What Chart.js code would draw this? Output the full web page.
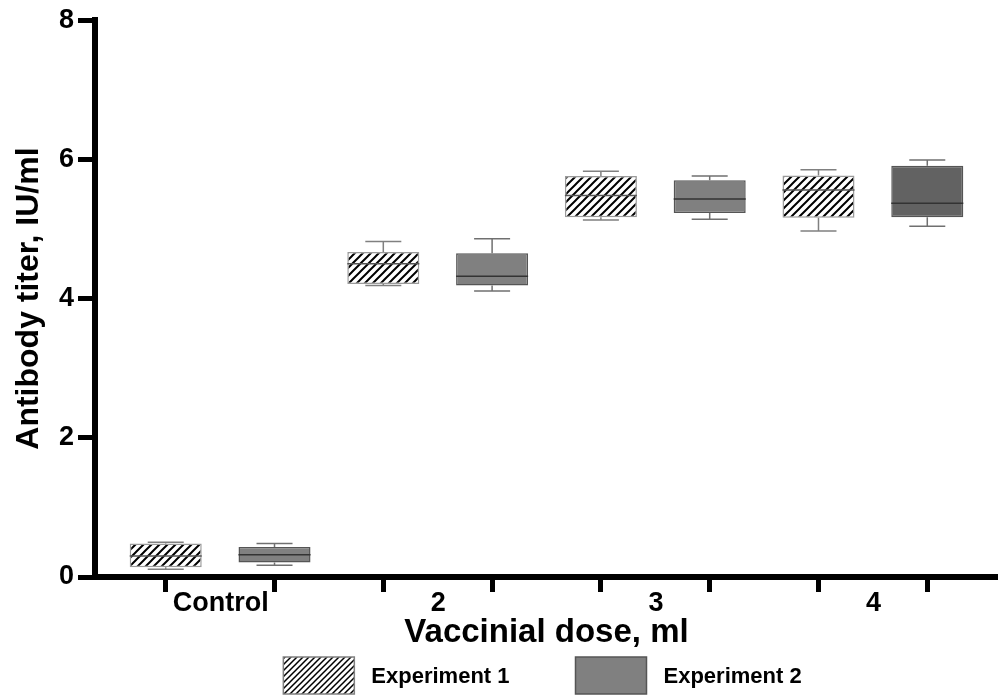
<!DOCTYPE html>
<html>
<head>
<meta charset="utf-8">
<script src="https://cdn.jsdelivr.net/npm/chart.js@4.4.1/dist/chart.umd.min.js"></script>
<style>
  html, body { margin: 0; padding: 0; background: #fff; }
  canvas { display: block; }
</style>
</head>
<body>
<canvas id="chart" width="998" height="697"></canvas>
<script>
// categories on the x axis
var categories = ["Control", "2", "3", "4"];

// Experiment 1 box plot values
var exp1Min    = [0.11, 4.19, 5.13, 4.97];
var exp1Q1     = [0.14, 4.21, 5.17, 5.16];
var exp1Median = [0.30, 4.50, 5.48, 5.56];
var exp1Q3     = [0.48, 4.67, 5.76, 5.77];
var exp1Max    = [0.50, 4.82, 5.83, 5.85];

// Experiment 2 box plot values
var exp2Min    = [0.17, 4.11, 5.14, 5.04];
var exp2Q1     = [0.21, 4.19, 5.23, 5.17];
var exp2Median = [0.32, 4.32, 5.43, 5.37];
var exp2Q3     = [0.43, 4.65, 5.70, 5.91];
var exp2Max    = [0.48, 4.86, 5.76, 5.99];

var yTicks = [0, 2, 4, 6, 8];

var FONT = "'Liberation Sans', Arial, Helvetica, sans-serif";

function hatch(size, width) {
    var c = document.createElement("canvas");
    c.width = size; c.height = size;
    var g = c.getContext("2d");
    g.fillStyle = "#fff";
    g.fillRect(0, 0, size, size);
    g.strokeStyle = "#000";
    g.lineWidth = width;
    g.beginPath();
    g.moveTo(-1, size + 1); g.lineTo(size + 1, -1);
    g.moveTo(-size / 2 - 1, size / 2 + 1); g.lineTo(size / 2 + 1, -size / 2 - 1);
    g.moveTo(size / 2 - 1, size * 1.5 + 1); g.lineTo(size * 1.5 + 1, size / 2 - 1);
    g.stroke();
    return g.createPattern(c, "repeat");
}

var ctx = document.getElementById("chart").getContext("2d");
var stripes = hatch(8, 2);
var legendStripes = hatch(6, 1.5);

// boxes go at x = 0,2,4,6 (exp 1) and 1,3,5,7 (exp 2)
function boxes(q1, q3, shift) {
    return q1.map(function (v, i) { return { x: 2 * i + shift, y: [v, q3[i]] }; });
}

var stats = [
    { min: exp1Min, med: exp1Median, max: exp1Max, whisker: "#808080", median: "#555" },
    { min: exp2Min, med: exp2Median, max: exp2Max, whisker: "#707070", median: "#333" }
];

var boxPlot = {
    id: "boxPlot",
    afterDatasetsDraw: function (chart) {
        var y = chart.scales.y;
        var g = chart.ctx;
        g.save();
        chart.data.datasets.forEach(function (ds, d) {
            var s = stats[d];
            chart.getDatasetMeta(d).data.forEach(function (bar, i) {
                var p = bar.getProps(["x", "y", "base", "width"], true);
                var top = Math.min(p.y, p.base), bottom = Math.max(p.y, p.base);
                var cap = p.width / 4;
                var yMax = y.getPixelForValue(s.max[i]);
                var yMin = y.getPixelForValue(s.min[i]);
                g.strokeStyle = s.whisker;
                g.lineWidth = 1.5;
                g.beginPath();
                g.moveTo(p.x, top); g.lineTo(p.x, yMax);
                g.moveTo(p.x - cap, yMax); g.lineTo(p.x + cap, yMax);
                g.moveTo(p.x, bottom); g.lineTo(p.x, yMin);
                g.moveTo(p.x - cap, yMin); g.lineTo(p.x + cap, yMin);
                g.stroke();
                var ym = y.getPixelForValue(s.med[i]);
                g.strokeStyle = s.median;
                g.lineWidth = 1.5;
                g.beginPath();
                g.moveTo(p.x - p.width / 2, ym); g.lineTo(p.x + p.width / 2, ym);
                g.stroke();
            });
        });
        g.restore();
    }
};

var boxLegend = {
    id: "boxLegend",
    afterDraw: function (chart) {
        var g = chart.ctx;
        var items = [
            { text: "Experiment 1", fill: legendStripes, stroke: "#808080" },
            { text: "Experiment 2", fill: "#808080", stroke: "#555" }
        ];
        var bw = 71, bh = 37, gapText = 17, gapItem = 66;
        g.save();
        g.font = "bold 22px " + FONT;
        var total = 0;
        items.forEach(function (it, k) {
            it.w = g.measureText(it.text).width;
            total += bw + gapText + it.w + (k ? gapItem : 0);
        });
        var area = chart.chartArea;
        var x = (area.left + area.right) / 2 - 4 - total / 2;
        var top = chart.height - 40;
        g.textBaseline = "middle";
        items.forEach(function (it) {
            g.fillStyle = it.fill;
            g.fillRect(x, top, bw, bh);
            g.strokeStyle = it.stroke;
            g.lineWidth = 1.5;
            g.strokeRect(x, top, bw, bh);
            g.fillStyle = "#000";
            g.fillText(it.text, x + bw + gapText, top + bh / 2 + 1);
            x += bw + gapText + it.w + gapItem;
        });
        g.restore();
    }
};

var exp2Colors = ["#808080", "#808080", "#808080", "#626262"];

var chart = new Chart(ctx, {
    type: "bar",
    data: {
        datasets: [
            {
                label: "Experiment 1",
                data: boxes(exp1Q1, exp1Q3, 0),
                backgroundColor: stripes,
                borderColor: "#9a9a9a",
                borderWidth: 1.5,
                borderSkipped: false,
                grouped: false
            },
            {
                label: "Experiment 2",
                data: boxes(exp2Q1, exp2Q3, 1),
                backgroundColor: exp2Colors,
                borderColor: "#555",
                borderWidth: 1.5,
                borderSkipped: false,
                grouped: false
            }
        ]
    },
    options: {
        responsive: false,
        animation: false,
        devicePixelRatio: 1,
        layout: { padding: { top: 18, right: 0, bottom: 40, left: 0 } },
        plugins: {
            legend: { display: false },
            tooltip: { enabled: false }
        },
        datasets: {
            bar: { barPercentage: 0.662, categoryPercentage: 1 }
        },
        scales: {
            x: {
                type: "linear",
                min: -0.65,
                max: 7.65,
                offset: false,
                afterFit: function (scale) { scale.height = 80; },
                border: { display: true, width: 6, color: "#000" },
                grid: { offset: false, drawOnChartArea: false, tickLength: 15, tickWidth: 5, tickColor: "#000" },
                ticks: {
                    stepSize: 1,
                    includeBounds: false,
                    autoSkip: false,
                    maxRotation: 0,
                    labelOffset: 55,
                    padding: -5,
                    color: "#000",
                    font: { family: FONT, size: 27, weight: "bold" },
                    callback: function (v) { return v % 2 === 0 ? categories[v / 2] : ""; }
                },
                title: {
                    display: true,
                    text: "Vaccinial dose, ml",
                    color: "#000",
                    padding: { top: 0, bottom: 4 },
                    font: { family: FONT, size: 33, weight: "bold" }
                }
            },
            y: {
                min: 0,
                max: 8,
                afterFit: function (scale) { scale.width = 95; },
                afterBuildTicks: function (scale) {
                    scale.ticks = yTicks.map(function (v) { return { value: v }; });
                },
                border: { display: true, width: 6, color: "#000" },
                grid: { drawOnChartArea: false, tickLength: 17, tickWidth: 5, tickColor: "#000" },
                ticks: {
                    padding: 4,
                    color: "#000",
                    font: { family: FONT, size: 27, weight: "bold" }
                },
                title: {
                    display: true,
                    text: "Antibody titer, IU/ml",
                    color: "#000",
                    padding: { top: 10, bottom: 0 },
                    font: { family: FONT, size: 32, weight: "bold" }
                }
            }
        }
    },
    plugins: [boxPlot, boxLegend]
});
</script>
</body>
</html>
